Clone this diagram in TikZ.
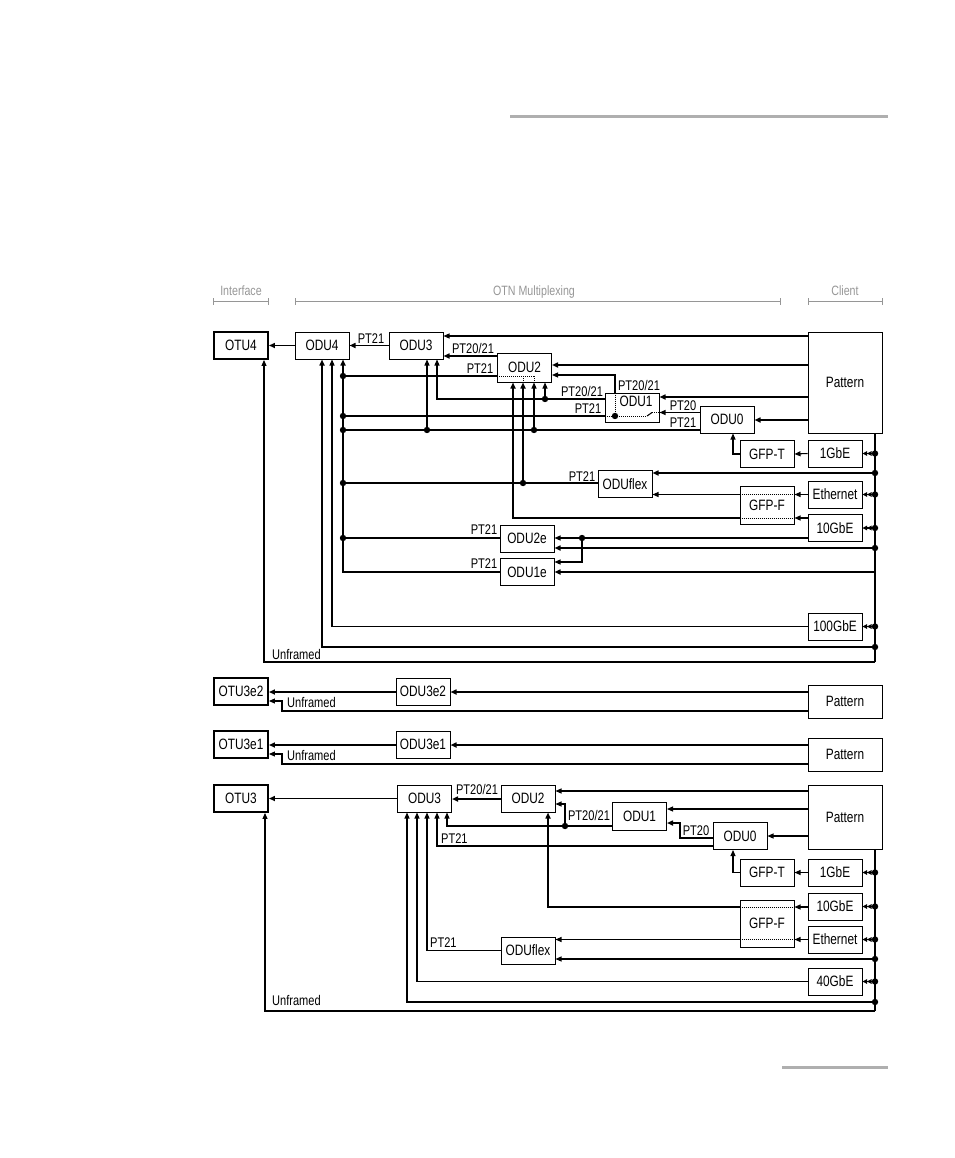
\documentclass[tikz,border=0pt]{standalone}
\usepackage{fontspec}
\setmainfont{Liberation Sans}[FakeStretch=0.79]
\usetikzlibrary{arrows.meta}
\definecolor{hdgray}{RGB}{150,150,150}
\definecolor{pagegray}{RGB}{175,175,175}
\begin{document}
\begin{tikzpicture}[x=1pt,y=-1pt,
  bx/.style={draw, line width=1pt, minimum width=54pt, minimum height=27pt, inner sep=0pt, font=\fontsize{15}{15}\selectfont},
  ob/.style={bx, line width=1.9pt},
  ln/.style={line width=1.05pt},
  tk/.style={line width=1.8pt},
  ar/.style={-{Triangle[length=6pt,width=5pt]}},
  dar/.style={-{Triangle[length=4.5pt,width=4.5pt]Triangle[length=4.5pt,width=4.5pt]}},
  dt/.style={line width=1pt, dash pattern=on 1pt off 1pt},
  lb/.style={font=\fontsize{14}{14}\selectfont, inner sep=0pt, anchor=base},
  hd/.style={font=\fontsize{13.5}{13.5}\selectfont, text=hdgray, inner sep=0pt, anchor=base},
  hl/.style={draw=hdgray, line width=1pt},
]
\useasboundingbox (0,0) rectangle (954,1158);
% page rules
\draw[pagegray, line width=3pt] (510,117) -- (888,117);
\draw[pagegray, line width=3pt] (782,1067) -- (888,1067);
% headers
\node[hd] (hI) at (241,295) {Interface};
\node[hd] (hO) at (534,295) {OTN Multiplexing};
\node[hd] (hC) at (845,295) {Client};
\draw[hl] (213,298) -- (213,305) (213,301.5) -- (268,301.5) (268,298) -- (268,305);
\draw[hl] (295,298) -- (295,305) (295,301.5) -- (780,301.5) (780,298) -- (780,305);
\draw[hl] (808,298) -- (808,305) (808,301.5) -- (882,301.5) (882,298) -- (882,305);

% ================= Section 1 =================
\node[ob] (otu4) at (241,345.5) {OTU4};
\node[bx] (odu4) at (322,345.5) {ODU4};
\node[bx] (odu3a) at (416,345.5) {ODU3};
\node[bx, minimum height=29pt] (odu2a) at (524.5,367.5) {ODU2};
\node[bx, minimum width=74pt, minimum height=101pt] (pat1) at (845,382.5) {Pattern};
\node[bx, minimum height=29pt] (odu1a) at (632,407.5) {};
\node[font=\fontsize{15}{15}\selectfont, inner sep=0pt] (odu1aT) at (636,401.5) {ODU1};
\node[bx] (odu0a) at (727,419.5) {ODU0};
\node[bx] (gfpta) at (767,454) {GFP-T};
\node[bx] (gbe1a) at (835,453.5) {1GbE};
\node[bx] (oduflexa) at (625,484) {ODUflex};
\node[bx, minimum height=38pt] (gfpfa) at (767,505.5) {GFP-F};
\node[bx] (etha) at (835,494.5) {Ethernet};
\node[bx] (gbe10a) at (835,528) {10GbE};
\node[bx] (odu2e) at (527,538.5) {ODU2e};
\node[bx] (odu1e) at (527,572) {ODU1e};
\node[bx] (gbe100) at (835,626.5) {100GbE};

\draw[tk,ar] (odu4.west) -- (otu4.east);
\draw[tk,ar] (odu3a.west) -- (odu4.east);
\node[lb] (l1) at (371,343) {PT21};
\draw[ln,ar] (pat1.west |- 0,336) -- (odu3a.east |- 0,336);
\draw[tk,ar] (odu2a.west |- 0,356) -- (odu3a.east |- 0,356);
\node[lb] (l2) at (473,353.5) {PT20/21};
\draw[tk,ar] (pat1.west |- 0,365) -- (odu2a.east |- 0,365);
% ODU1 top -> ODU2
\draw[ln,ar] (odu1a.north -| 615,0) -- (615,375) -- (odu2a.east |- 0,375);
\node[lb] (l3) at (639,390) {PT20/21};
\draw[dt] (odu1a.north -| 615,0) -- (615,416);
\draw[dt] (615,416) -- (647,416);
\draw[ln] (647,416) -- (652,412.5);
\draw[dt] (652,412.5) -- (odu1a.east |- 0,412.5);
% ODU0 -> ODU1
\draw[ln,ar] (odu0a.west |- 0,412.5) -- (odu1a.east |- 0,412.5);
\node[lb] (l4) at (683,410.5) {PT20};
\node[lb] (l5) at (683,427) {PT21};
\draw[tk,ar] (pat1.west |- 0,397) -- (odu1a.east |- 0,397);
\draw[tk,ar] (pat1.west |- 0,420) -- (odu0a.east |- 0,420);
% ODU1 PT20/21
\draw[ln,ar] (odu1a.west |- 0,399) -- (437,399) -- (odu3a.south -| 437,0);
\node[lb] (l6) at (582,396) {PT20/21};
\draw[ln,ar] (545,399) -- (odu2a.south -| 545,0);
% ODU1 PT21
\draw[ln] (odu1a.west |- 0,416) -- (343,416);
\draw[dt] (odu1a.west |- 0,416) -- (615,416);
\node[lb] (l7) at (588,413) {PT21};
% ODU0 PT21
\draw[tk] (odu0a.west |- 0,430) -- (343,430);
\draw[ln,ar] (534,430) -- (odu2a.south -| 534,0);
\draw[ln,ar] (427,430) -- (odu3a.south -| 427,0);
% ODU2 PT21
\draw[ln] (odu2a.west |- 0,376) -- (343,376);
\node[lb] (l8) at (480,373) {PT21};
\draw[dt] (odu2a.west |- 0,376) -- (534,376) (523,376) -- (odu2a.south -| 523,0) (534,376) -- (odu2a.south -| 534,0);
% ODU4 collecting bus
\draw[tk,ar] (odu1e.west |- 0,572) -- (343,572) -- (odu4.south -| 343,0);
\node[lb] (l9) at (484,568) {PT21};
\draw[ln] (oduflexa.west |- 0,483) -- (343,483);
\node[lb] (l10) at (582,481) {PT21};
\draw[tk,ar] (523,483) -- (odu2a.south -| 523,0);
\draw[ln] (odu2e.west |- 0,538) -- (343,538);
\node[lb] (l11) at (484,534) {PT21};
% GFP-F paths
\draw[tk,ar] (gfpfa.west |- 0,518) -- (513,518) -- (odu2a.south -| 513,0);
\draw[dt] (gfpfa.west |- 0,518) -- (gfpfa.east |- 0,518);
\draw[ln,ar] (gbe10a.west |- 0,518) -- (gfpfa.east |- 0,518);
\draw[ln,ar] (etha.west) -- (gfpfa.east |- etha.west);
\draw[dt] (gfpfa.west |- 0,494.5) -- (gfpfa.east |- 0,494.5);
\draw[ln,ar] (gfpfa.west |- 0,494.5) -- (oduflexa.east |- 0,494.5);
\draw[tk,ar] (875,473) -- (oduflexa.east |- 0,473);
% GFP-T
\draw[ln,ar] (gbe1a.west) -- (gfpta.east);
\draw[ln,ar] (gfpta.west) -- (733,454) -- (odu0a.south -| 733,0);
% ODU2e / ODU1e
\draw[ln,ar] (gbe10a.west |- 0,538) -- (odu2e.east |- 0,538);
\draw[ln,ar] (582,538) -- (582,562) -- (odu1e.east |- 0,562);
\draw[tk,ar] (875,548) -- (odu2e.east |- 0,548);
\draw[tk,ar] (875,572) -- (odu1e.east |- 0,572);
% 100GbE and direct
\draw[ln,ar] (gbe100.west) -- (332,626.5) -- (odu4.south -| 332,0);
\draw[tk,ar] (875,647) -- (322,647) -- (odu4.south -| 322,0);
\draw[ln,ar] (875,662) -- (264,662) -- (otu4.south -| 264,0);
\node[lb, anchor=base west] (l12) at (272,659) {Unframed};
% client bus
\draw[ln] (pat1.south -| 875,0) -- (875,662);
\draw[ln,dar] (gbe1a.east -| 875,0) -- (gbe1a.east);
\draw[ln,dar] (etha.east -| 875,0) -- (etha.east);
\draw[ln,dar] (gbe10a.east -| 875,0) -- (gbe10a.east);
\draw[ln,dar] (gbe100.east -| 875,0) -- (gbe100.east);
% junction dots
\foreach \p in {(343,376),(343,416),(343,430),(343,483),(343,538),(545,399),(534,430),(427,430),(523,483),(582,538),(615,416),
  (875,453.5),(875,473),(875,494.5),(875,528),(875,548),(875,626.5),(875,647)}
  \fill \p circle (3.2pt);

% ================= Section 2 =================
\node[ob] (otu3e2) at (241,691.5) {OTU3e2};
\node[bx] (odu3e2) at (423,691.5) {ODU3e2};
\node[bx, minimum width=74pt, minimum height=33pt] (pat2) at (845,701.5) {Pattern};
\draw[tk,ar] (pat2.west |- 0,692) -- (odu3e2.east |- 0,692);
\draw[tk,ar] (odu3e2.west |- 0,692) -- (otu3e2.east |- 0,692);
\draw[ln,ar] (pat2.west |- 0,711) -- (282,711) -- (282,701) -- (otu3e2.east |- 0,701);
\node[lb, anchor=base west] (l13) at (287,707) {Unframed};

% ================= Section 3 =================
\node[ob] (otu3e1) at (241,744.5) {OTU3e1};
\node[bx] (odu3e1) at (423,744.5) {ODU3e1};
\node[bx, minimum width=74pt, minimum height=33pt] (pat3) at (845,754.5) {Pattern};
\draw[tk,ar] (pat3.west |- 0,745) -- (odu3e1.east |- 0,745);
\draw[tk,ar] (odu3e1.west |- 0,745) -- (otu3e1.east |- 0,745);
\draw[ln,ar] (pat3.west |- 0,764) -- (282,764) -- (282,754) -- (otu3e1.east |- 0,754);
\node[lb, anchor=base west] (l14) at (287,760) {Unframed};

% ================= Section 4 =================
\node[ob] (otu3) at (241,798.5) {OTU3};
\node[bx] (odu3b) at (424.5,798.5) {ODU3};
\node[bx] (odu2b) at (528,798.5) {ODU2};
\node[bx, minimum height=28pt] (odu1b) at (639.5,816) {ODU1};
\node[bx] (odu0b) at (740,836) {ODU0};
\node[bx, minimum width=74pt, minimum height=64pt] (pat4) at (845,817) {Pattern};
\node[bx] (gfptb) at (767,872.5) {GFP-T};
\node[bx] (gbe1b) at (835,872.5) {1GbE};
\node[bx] (gbe10b) at (835,906.5) {10GbE};
\node[bx, minimum height=47pt] (gfpfb) at (767,923.5) {GFP-F};
\node[bx] (ethb) at (835,939.5) {Ethernet};
\node[bx] (oduflexb) at (528,950.5) {ODUflex};
\node[bx] (gbe40) at (835,981.5) {40GbE};

\draw[tk,ar] (odu3b.west) -- (otu3.east);
\draw[tk,ar] (odu2b.west |- 0,799) -- (odu3b.east |- 0,799);
\node[lb] (l15) at (477,794) {PT20/21};
\draw[ln,ar] (pat4.west |- 0,791) -- (odu2b.east |- 0,791);
\draw[ln,ar] (pat4.west |- 0,809) -- (odu1b.east |- 0,809);
\draw[ln,ar] (pat4.west |- 0,836) -- (odu0b.east |- 0,836);
\draw[ln,ar] (odu1b.west |- 0,826) -- (447,826) -- (odu3b.south -| 447,0);
\draw[ln,ar] (565,826) -- (565,804) -- (odu2b.east |- 0,804);
\node[lb] (l16) at (589,820) {PT20/21};
\draw[tk,ar] (odu0b.west |- 0,838) -- (680,838) -- (680,823) -- (odu1b.east |- 0,823);
\node[lb] (l17) at (696,835) {PT20};
\draw[ln,ar] (odu0b.west |- 0,846) -- (437,846) -- (odu3b.south -| 437,0);
\node[lb, anchor=base west] (l18) at (441,843) {PT21};
\draw[ln,ar] (gfptb.west) -- (733,872.5) -- (odu0b.south -| 733,0);
\draw[ln,ar] (gbe1b.west) -- (gfptb.east);
\draw[tk,ar] (gfpfb.west |- 0,907) -- (548,907) -- (odu2b.south -| 548,0);
\draw[dt] (gfpfb.west |- 0,907) -- (gfpfb.east |- 0,907);
\draw[ln,ar] (gbe10b.west |- 0,907) -- (gfpfb.east |- 0,907);
\draw[ln,ar] (ethb.west) -- (gfpfb.east |- ethb.west);
\draw[dt] (gfpfb.west |- 0,939.5) -- (gfpfb.east |- 0,939.5);
\draw[ln,ar] (gfpfb.west |- 0,939.5) -- (oduflexb.east |- 0,939.5);
\draw[ln,ar] (875,959) -- (oduflexb.east |- 0,959);
\draw[ln,ar] (oduflexb.west) -- (427,950.5) -- (odu3b.south -| 427,0);
\node[lb, anchor=base west] (l19) at (430,947) {PT21};
\draw[ln,ar] (gbe40.west) -- (417,981.5) -- (odu3b.south -| 417,0);
\draw[ln,ar] (875,1002) -- (407,1002) -- (odu3b.south -| 407,0);
\draw[ln,ar] (875,1011) -- (265,1011) -- (otu3.south -| 265,0);
\node[lb, anchor=base west] (l20) at (272,1005) {Unframed};
\draw[ln] (pat4.south -| 875,0) -- (875,1011);
\draw[ln,dar] (gbe1b.east -| 875,0) -- (gbe1b.east);
\draw[ln,dar] (gbe10b.east -| 875,0) -- (gbe10b.east);
\draw[ln,dar] (ethb.east -| 875,0) -- (ethb.east);
\draw[ln,dar] (gbe40.east -| 875,0) -- (gbe40.east);
\foreach \p in {(565,826),(875,872.5),(875,906.5),(875,939.5),(875,959),(875,981.5),(875,1002)}
  \fill \p circle (3.2pt);
\end{tikzpicture}
\end{document}
